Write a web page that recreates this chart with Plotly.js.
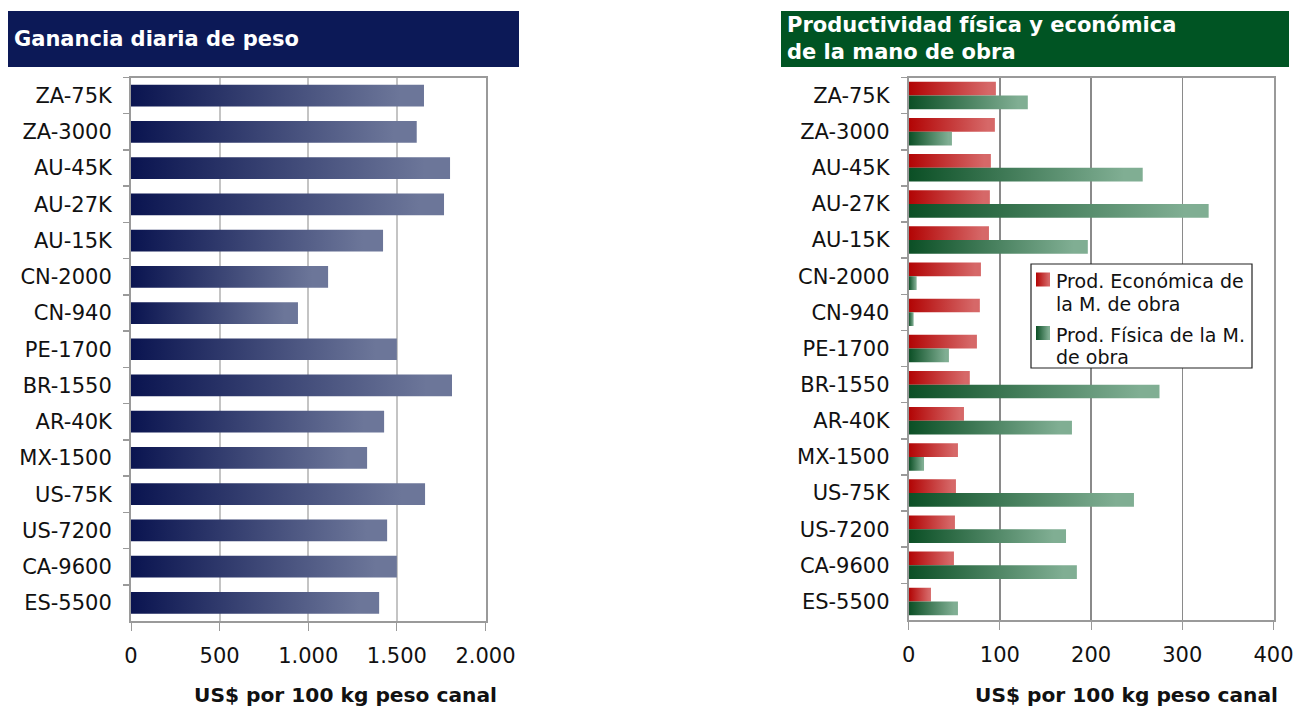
<!DOCTYPE html>
<html>
<head>
<meta charset="utf-8">
<script src="https://cdn.plot.ly/plotly-3.0.1.min.js"></script>
<style>
  html, body { margin: 0; padding: 0; background: #ffffff; }
  #chart { width: 1296px; height: 707px; }
</style>
</head>
<body>
<div id="chart"></div>
<script>
// ---- Data ----
const categories = ["ZA-75K", "ZA-3000", "AU-45K", "AU-27K", "AU-15K", "CN-2000", "CN-940",
  "PE-1700", "BR-1550", "AR-40K", "MX-1500", "US-75K", "US-7200", "CA-9600", "ES-5500"];

// Left chart: Ganancia diaria de peso (US$ por 100 kg peso canal)
const gananciaDiaria = [1653, 1612, 1800, 1766, 1422, 1112, 942,
  1500, 1811, 1428, 1332, 1659, 1445, 1500, 1400];

// Right chart: productividad de la mano de obra
const prodEconomica = [95.6, 94.5, 90.1, 89, 88, 79.2, 78,
  74.8, 67, 60.6, 54, 51.8, 50.7, 49.6, 24.4];
const prodFisica = [130.6, 47.4, 256.6, 328.9, 196.4, 8.7, 5.4,
  44.1, 275, 179, 16.8, 247, 172.5, 184.4, 54];

const seriesNames = ["Prod. Económica de<br>la M. de obra", "Prod. Física de la M.<br>de obra"];
const leftTitle = "Ganancia diaria de peso";
const rightTitle = "Productividad física y económica<br>de la mano de obra";
const axisTitle = "US$ por 100 kg peso canal";

// ---- Styling ----
const W = 1296, H = 707;
const px = v => v / W;
const py = v => 1 - v / H;
const FONT = "DejaVu Sans, Verdana, sans-serif";

const gradients = {
  0: ["#0A1450", "#6C7699"],
  1: ["#B20404", "#D66868"],
  2: ["#0B4F25", "#80AE93"]
};

const data = [
  {
    type: "bar", orientation: "h",
    y: categories, x: gananciaDiaria,
    xaxis: "x", yaxis: "y",
    width: 0.6, offset: -0.3,
    marker: { color: "#3B4575", line: { width: 0 } },
    showlegend: false, hoverinfo: "skip"
  },
  {
    type: "bar", orientation: "h",
    y: categories, x: prodEconomica,
    xaxis: "x2", yaxis: "y2",
    width: 0.38, offset: -0.38,
    name: seriesNames[0],
    marker: { color: "#C43434", line: { width: 0 } },
    showlegend: false, hoverinfo: "skip"
  },
  {
    type: "bar", orientation: "h",
    y: categories, x: prodFisica,
    xaxis: "x2", yaxis: "y2",
    width: 0.38, offset: 0,
    name: seriesNames[1],
    marker: { color: "#3F7F59", line: { width: 0 } },
    showlegend: false, hoverinfo: "skip"
  }
];

const yCommon = {
  type: "category",
  autorange: "reversed",
  showgrid: false,
  zeroline: false,
  showline: true, mirror: true,
  linecolor: "#9A9A9A", linewidth: 2,
  ticks: "outside", ticklen: 6, tickcolor: "#9A9A9A", tickwidth: 1.5,
  tickson: "boundaries",
  ticklabelstandoff: 13,
  tickfont: { family: FONT, size: 21, color: "#111111" },
  fixedrange: true
};

const xCommon = {
  showgrid: true,
  zeroline: false,
  showline: true, mirror: true,
  linecolor: "#9A9A9A", linewidth: 2,
  ticks: "outside", ticklen: 8, tickcolor: "#9A9A9A", tickwidth: 1,
  ticklabelstandoff: 7,
  tickfont: { family: FONT, size: 21, color: "#111111" },
  fixedrange: true
};

// ---- Legend (drawn as shapes + text lines) ----
const legendBox = { x0: 1031, x1: 1252, y0: 264, y1: 368 };
const legendSwatchY = [279.5, 333];  // swatch centres (px)
const legendLineGap = 22.5;          // px between the two lines of an item
const legendShapes = [
  { type: "rect", xref: "paper", yref: "paper", layer: "above",
    x0: px(legendBox.x0), x1: px(legendBox.x1), y0: py(legendBox.y1), y1: py(legendBox.y0),
    fillcolor: "#ffffff", line: { color: "#222222", width: 1.2 } }
];
const legendAnnotations = [];
seriesNames.forEach((nm, i) => {
  const cy = legendSwatchY[i];
  legendShapes.push({ type: "rect", xref: "paper", yref: "paper", layer: "above",
    x0: px(1036), x1: px(1050), y0: py(cy + 7), y1: py(cy - 7),
    fillcolor: i === 0 ? "#C43434" : "#3F7F59", line: { width: 0 },
    name: "legendSwatch" + (i + 1) });
  nm.split("<br>").forEach((line, j) => {
    legendAnnotations.push({ xref: "paper", yref: "paper",
      x: px(1054), y: py(cy + 1.5 + j * legendLineGap),
      xanchor: "left", yanchor: "middle", showarrow: false, align: "left",
      text: line, font: { family: FONT, size: 19, color: "#111111" } });
  });
});

const layout = {
  width: W, height: H,
  autosize: false,
  margin: { l: 0, r: 0, t: 0, b: 0, pad: 0 },
  paper_bgcolor: "#ffffff",
  plot_bgcolor: "#ffffff",
  separators: ",.",
  barmode: "overlay",
  showlegend: false,
  font: { family: FONT, size: 20, color: "#111111" },
  xaxis: Object.assign({}, xCommon, {
    domain: [px(131), px(485.5)],
    range: [0, 2000], dtick: 500, tick0: 0,
    tickformat: ",d",
    gridcolor: "#C4C4C4", gridwidth: 2,
    anchor: "y"
  }),
  yaxis: Object.assign({}, yCommon, {
    domain: [py(621), py(77.5)],
    anchor: "x"
  }),
  xaxis2: Object.assign({}, xCommon, {
    domain: [px(908.7), px(1273.5)],
    range: [0, 400], dtick: 100, tick0: 0,
    gridcolor: "#8A8A8A", gridwidth: 1.2,
    anchor: "y2"
  }),
  yaxis2: Object.assign({}, yCommon, {
    domain: [py(619.5), py(77.5)],
    anchor: "x2"
  }),
  shapes: [
    { type: "rect", xref: "paper", yref: "paper", layer: "below",
      x0: px(8), x1: px(519), y0: py(67), y1: py(11),
      fillcolor: "#0C1957", line: { width: 0 } },
    { type: "rect", xref: "paper", yref: "paper", layer: "below",
      x0: px(781), x1: px(1289), y0: py(67), y1: py(11),
      fillcolor: "#005423", line: { width: 0 } }
  ].concat(legendShapes),
  annotations: [
    { xref: "paper", yref: "paper", x: px(12), y: py(39.5),
      xanchor: "left", yanchor: "middle", showarrow: false, align: "left",
      text: "<b>" + leftTitle + "</b>",
      font: { family: FONT, size: 21, color: "#ffffff" } },
    { xref: "paper", yref: "paper", x: px(785), y: py(38.5),
      xanchor: "left", yanchor: "middle", showarrow: false, align: "left",
      text: "<b>" + rightTitle.replace("<br>", "</b><br><b>") + "</b>",
      font: { family: FONT, size: 21, color: "#ffffff" } },
    { xref: "paper", yref: "paper", x: px(345), y: py(695),
      xanchor: "center", yanchor: "middle", showarrow: false,
      text: "<b>" + axisTitle + "</b>",
      font: { family: FONT, size: 20.2, color: "#111111" } },
    { xref: "paper", yref: "paper", x: px(1126), y: py(695),
      xanchor: "center", yanchor: "middle", showarrow: false,
      text: "<b>" + axisTitle + "</b>",
      font: { family: FONT, size: 20.2, color: "#111111" } }
  ].concat(legendAnnotations)
};

function makeGradient(defs, id, colors) {
  const svgNS = "http://www.w3.org/2000/svg";
  const g = document.createElementNS(svgNS, "linearGradient");
  g.setAttribute("id", id);
  g.setAttribute("x1", "0"); g.setAttribute("y1", "0");
  g.setAttribute("x2", "1"); g.setAttribute("y2", "0");
  [[0, colors[0]], [0.92, colors[1]], [1, colors[1]]].forEach(([o, c]) => {
    const s = document.createElementNS(svgNS, "stop");
    s.setAttribute("offset", String(o)); s.setAttribute("stop-color", c);
    g.appendChild(s);
  });
  defs.appendChild(g);
}

function applyGradients(gd) {
  const svgNS = "http://www.w3.org/2000/svg";
  const svg = gd.querySelector(".main-svg");
  let defs = svg.querySelector("defs");
  if (!defs) { defs = document.createElementNS(svgNS, "defs"); svg.insertBefore(defs, svg.firstChild); }
  Object.keys(gradients).forEach(k => makeGradient(defs, "barGrad" + k, gradients[k]));
  gd.querySelectorAll(".barlayer .trace").forEach(tr => {
    const d = tr.__data__;
    if (!d || !d[0] || !d[0].trace) return;
    const idx = d[0].trace.index;
    tr.querySelectorAll("path").forEach(p => { p.style.fill = "url(#barGrad" + idx + ")"; });
  });
  // legend swatches (shapes)
  const shapeList = gd.layout.shapes;
  shapeList.forEach((s, i) => {
    if (s.name === "legendSwatch1" || s.name === "legendSwatch2") {
      const k = s.name === "legendSwatch1" ? 1 : 2;
      gd.querySelectorAll('path[data-index="' + i + '"]').forEach(p => {
        p.style.fill = "url(#barGrad" + k + ")";
        p.style.fillOpacity = 1;
      });
    }
  });
}

Plotly.newPlot("chart", data, layout, { staticPlot: true, displayModeBar: false })
  .then(gd => applyGradients(gd));
</script>
</body>
</html>
